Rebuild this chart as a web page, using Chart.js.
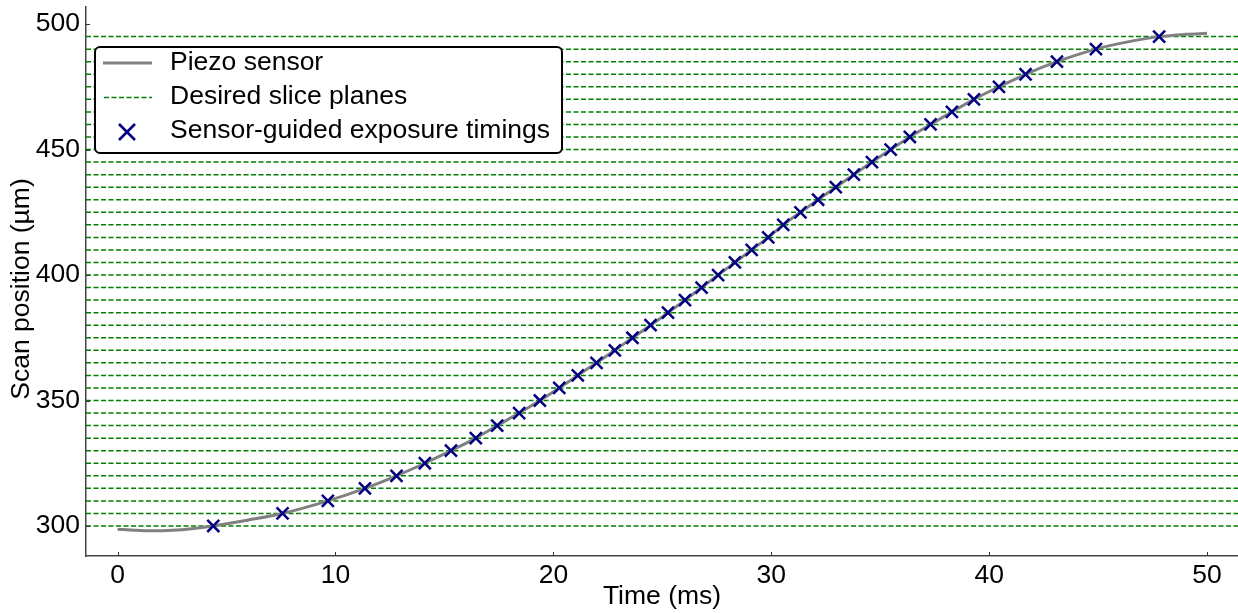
<!DOCTYPE html>
<html>
<head>
<meta charset="utf-8">
<script src="https://cdn.jsdelivr.net/npm/chart.js@4/dist/chart.umd.min.js"></script>
<style>
  html, body { margin: 0; padding: 0; background: #ffffff; }
  #wrap { width: 1238px; height: 613px; }
</style>
</head>
<body>
<div id="wrap"><canvas id="c" width="1238" height="613"></canvas></div>
<script>
// ---- Data ----
const xTickValues = [0, 10, 20, 30, 40, 50];
const yTickValues = [300, 350, 400, 450, 500];

// Desired slice planes (µm)
const slicePlanes = [300, 305, 310, 315, 320, 325, 330, 335, 340, 345,
                     350, 355, 360, 365, 370, 375, 380, 385, 390, 395,
                     400, 405, 410, 415, 420, 425, 430, 435, 440, 445,
                     450, 455, 460, 465, 470, 475, 480, 485, 490, 495];

// Sensor-guided exposure timings (ms), one per slice plane
const exposureTimes = [4.39, 7.57, 9.65, 11.35, 12.80, 14.10, 15.30, 16.44, 17.42, 18.43,
                       19.38, 20.27, 21.12, 21.98, 22.82, 23.63, 24.46, 25.26, 26.04, 26.80,
                       27.56, 28.33, 29.10, 29.86, 30.55, 31.34, 32.15, 32.96, 33.79, 34.62,
                       35.48, 36.36, 37.31, 38.29, 39.30, 40.45, 41.67, 43.11, 44.90, 47.80];

// Piezo sensor trace
const piezoTime = [0, 0.8, 1.6, 2.5, 3.4, 4.39, 6.0, 7.57, 9.65, 11.35, 12.80, 14.10, 15.30,
                   16.44, 17.42, 18.43, 19.38, 20.27, 21.12, 21.98, 22.82, 23.63, 24.46, 25.26,
                   26.04, 26.80, 27.56, 28.33, 29.10, 29.86, 30.55, 31.34, 32.15, 32.96, 33.79,
                   34.62, 35.48, 36.36, 37.31, 38.29, 39.30, 40.45, 41.67, 43.11, 44.90, 46.3,
                   47.80, 49.0, 50.0];
const piezoPos  = [298.7, 298.3, 298.1, 298.3, 298.9, 300.0, 302.4, 305, 310, 315, 320, 325, 330,
                   335, 340, 345, 350, 355, 360, 365, 370, 375, 380, 385,
                   390, 395, 400, 405, 410, 415, 420, 425, 430, 435, 440,
                   445, 450, 455, 460, 465, 470, 475, 480, 485, 490, 492.8,
                   495, 495.9, 496.3];

const xMin = -1.45, xMax = 51.42;
const yMin = 288.04, yMax = 506.8;

const FONT = '"Liberation Sans", Arial, Helvetica, sans-serif';
const FS = 26.5;

// ---- Build datasets ----
const datasets = [];
datasets.push({
  label: 'Sensor-guided exposure timings',
  data: exposureTimes.map((t, i) => ({x: t, y: slicePlanes[i]})),
  showLine: false,
  pointStyle: 'crossRot',
  pointRadius: 8.5,
  pointBorderWidth: 2.5,
  pointBorderColor: '#000080',
  pointBackgroundColor: '#000080',
  order: 0
});
datasets.push({
  label: 'Piezo sensor',
  data: piezoTime.map((t, i) => ({x: t, y: piezoPos[i]})),
  borderColor: '#808080',
  borderWidth: 3,
  pointRadius: 0,
  cubicInterpolationMode: 'monotone',
  fill: false,
  order: 1
});
slicePlanes.forEach((p, i) => {
  datasets.push({
    label: i === 0 ? 'Desired slice planes' : '',
    data: [{x: xMin, y: p}, {x: xMax, y: p}],
    borderColor: '#008000',
    borderWidth: 1.5,
    borderDash: [5, 2.5],
    pointRadius: 0,
    fill: false,
    order: 2
  });
});

// ---- Plugins ----
const innerTicks = {
  id: 'innerTicks',
  afterDatasetsDraw(chart) {
    const ctx = chart.ctx;
    const xs = chart.scales.x, ys = chart.scales.y;
    const a = chart.chartArea;
    ctx.save();
    ctx.strokeStyle = '#333333';
    ctx.lineWidth = 1;
    xTickValues.forEach(v => {
      const px = Math.round(xs.getPixelForValue(v)) + 0.5;
      ctx.beginPath(); ctx.moveTo(px, a.bottom); ctx.lineTo(px, a.bottom - 4); ctx.stroke();
    });
    yTickValues.forEach(v => {
      const py = Math.round(ys.getPixelForValue(v)) + 0.5;
      ctx.beginPath(); ctx.moveTo(a.left, py); ctx.lineTo(a.left + 4, py); ctx.stroke();
    });
    ctx.restore();
  }
};

const yTitle = {
  id: 'yTitle',
  afterDraw(chart) {
    const ctx = chart.ctx;
    ctx.save();
    ctx.translate(22, 289);
    ctx.rotate(-Math.PI / 2);
    ctx.fillStyle = '#000000';
    ctx.font = FS + 'px ' + FONT;
    ctx.textAlign = 'center';
    ctx.textBaseline = 'middle';
    ctx.fillText('Scan position (µm)', 0, 0);
    ctx.restore();
  }
};

const boxLegend = {
  id: 'boxLegend',
  afterDraw(chart) {
    const ctx = chart.ctx;
    const x0 = 95, y0 = 47, w = 467, h = 106, r = 5;
    ctx.save();
    ctx.beginPath();
    ctx.roundRect(x0, y0, w, h, r);
    ctx.fillStyle = '#ffffff';
    ctx.fill();
    ctx.lineWidth = 2;
    ctx.strokeStyle = '#000000';
    ctx.stroke();

    const rows = [63, 97, 131];
    // Piezo sensor line
    ctx.beginPath();
    ctx.strokeStyle = '#808080';
    ctx.lineWidth = 3;
    ctx.moveTo(103, rows[0]); ctx.lineTo(152, rows[0]);
    ctx.stroke();
    // Dashed slice line
    ctx.beginPath();
    ctx.strokeStyle = '#008000';
    ctx.lineWidth = 1.5;
    ctx.setLineDash([5, 2.5]);
    ctx.moveTo(104, rows[1] + 0.5); ctx.lineTo(152, rows[1] + 0.5);
    ctx.stroke();
    ctx.setLineDash([]);
    // X marker
    ctx.beginPath();
    ctx.strokeStyle = '#000080';
    ctx.lineWidth = 2.6;
    const cx = 127, cy = 132, s = 8;
    ctx.moveTo(cx - s, cy - s); ctx.lineTo(cx + s, cy + s);
    ctx.moveTo(cx + s, cy - s); ctx.lineTo(cx - s, cy + s);
    ctx.stroke();

    ctx.fillStyle = '#000000';
    ctx.font = FS + 'px ' + FONT;
    ctx.textBaseline = 'middle';
    ctx.textAlign = 'left';
    ctx.fillText('Piezo sensor', 170, rows[0]);
    ctx.fillText('Desired slice planes', 170, rows[1]);
    ctx.fillText('Sensor-guided exposure timings', 170, rows[2]);
    ctx.restore();
  }
};

new Chart(document.getElementById('c'), {
  type: 'line',
  data: { datasets },
  options: {
    responsive: false,
    devicePixelRatio: 1,
    animation: false,
    events: [],
    layout: { autoPadding: false, padding: { top: 7, left: 0, right: 0, bottom: 0 } },
    plugins: {
      legend: { display: false },
      tooltip: { enabled: false }
    },
    scales: {
      x: {
        type: 'linear',
        min: xMin, max: xMax,
        afterBuildTicks: s => { s.ticks = xTickValues.map(v => ({value: v})); },
        afterFit: s => { s.height = 57; s.paddingLeft = 0; s.paddingRight = 0; },
        grid: { display: false, drawTicks: false },
        border: { display: true, color: '#444444', width: 1.5 },
        ticks: {
          color: '#000000',
          font: { family: FONT, size: FS },
          padding: 4,
          maxRotation: 0,
          callback: v => String(v)
        },
        title: {
          display: true,
          text: 'Time (ms)',
          color: '#000000',
          font: { family: FONT, size: FS, lineHeight: 1.2 },
          padding: { top: 0, bottom: 0 }
        }
      },
      y: {
        type: 'linear',
        min: yMin, max: yMax,
        afterBuildTicks: s => { s.ticks = yTickValues.map(v => ({value: v})); },
        afterFit: s => { s.width = 86; s.paddingTop = 0; s.paddingBottom = 0; },
        grid: { display: false, drawTicks: false },
        border: { display: true, color: '#444444', width: 1.5 },
        ticks: {
          color: '#000000',
          font: { family: FONT, size: FS },
          padding: 6,
          callback: v => String(v)
        },
        title: { display: false }
      }
    }
  },
  plugins: [innerTicks, yTitle, boxLegend]
});
</script>
</body>
</html>
